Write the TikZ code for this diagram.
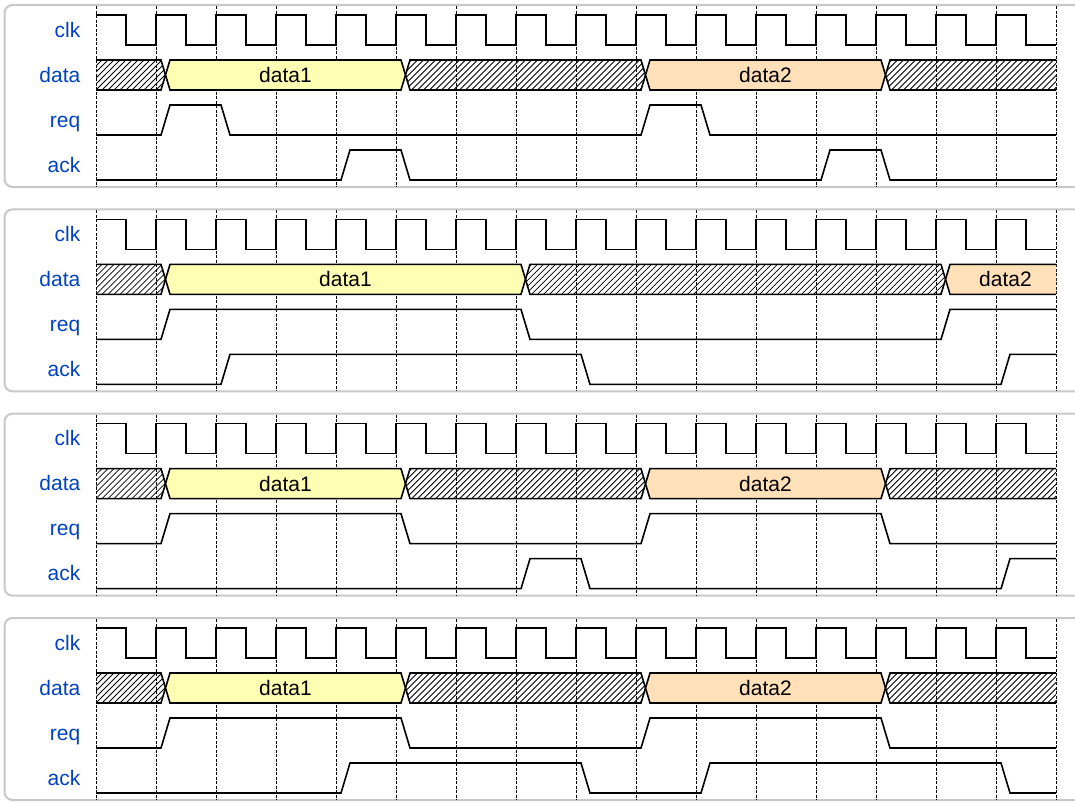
\documentclass[tikz,border=0pt]{standalone}
\usepackage{fontspec}
\setmainfont{Liberation Sans}
\definecolor{labblue}{HTML}{0041C4}
\definecolor{dyellow}{HTML}{FFFFB4}
\definecolor{dorange}{HTML}{FFE0B9}
\definecolor{panelgray}{HTML}{C8C8C8}
\tikzset{
  sig/.style={line width=1.6pt, black, line join=miter},
  gridln/.style={line width=0.7pt, dash pattern=on 3pt off 1.5pt, black},
  hatchln/.style={line width=0.8pt, black},
  pbox/.style={draw=panelgray, line width=2pt, rounded corners=8pt},
  lab/.style={anchor=base east, text=labblue, inner sep=0pt, font=\fontsize{21}{24}\selectfont},
  dlab/.style={anchor=base, text=black, inner sep=0pt, font=\fontsize{21}{24}\selectfont},
}
% data segment geometry
\newcommand\dgeom[2]{%
  \pgfmathsetmacro\dLm{#1==0?96:96+60*#1+9.5}%
  \pgfmathsetmacro\dLt{#1==0?96:96+60*#1+14}%
  \pgfmathsetmacro\dLyT{#1==0?55:70}%
  \pgfmathsetmacro\dLyB{#1==0?85:70}%
  \pgfmathsetmacro\dRm{#2==16?1056:96+60*#2+9.5}%
  \pgfmathsetmacro\dRt{#2==16?1056:96+60*#2+5}%
  \pgfmathsetmacro\dRyT{#2==16?55:70}%
  \pgfmathsetmacro\dRyB{#2==16?85:70}%
}
\newcommand\doutline{%
  \draw[sig] (\dLm,\dLyT) -- (\dLt,55) -- (\dRt,55) -- (\dRm,\dRyT);
  \draw[sig] (\dLm,\dLyB) -- (\dLt,85) -- (\dRt,85) -- (\dRm,\dRyB);
}
% filled data segment: a, b, colour, label, node name
\newcommand\dfill[5]{%
  \dgeom{#1}{#2}%
  \fill[#3] (\dLm,70) -- (\dLt,55) -- (\dRt,55) -- (\dRm,70) -- (\dRt,85) -- (\dLt,85) -- cycle;
  \doutline
  \node[dlab] (#5) at ({96+30*(#1+#2)+9.5},77.5) {#4};
}
% hatched (unknown) data segment
\newcommand\dhatch[2]{%
  \dgeom{#1}{#2}%
  \pgfmathtruncatemacro\dN{(\dRm-\dLm+30)/6+1}%
  \begin{scope}
    \clip (\dLm,70) -- (\dLt,55) -- (\dRt,55) -- (\dRm,70) -- (\dRt,85) -- (\dLt,85) -- cycle;
    \foreach \k in {0,...,\dN} \draw[hatchln] ({\dLm-30+6*\k},85) -- ++(30,-30);
  \end{scope}
  \doutline
}
% level signal: hi, lo, list of transition grid indices, end level (0/1)
\newcommand\lsig[4]{%
  \draw[sig] (96,#2) \foreach \t [count=\i] in {#3}{ -- ({96+60*\t+5},{#2+(#1-#2)*mod(\i-1,2)}) -- ({96+60*\t+14},{#2+(#1-#2)*mod(\i,2)}) } -- (1056,{#2+(#1-#2)*#4});
}
% common parts of a panel
\newcommand\panelbase[1]{%
  \draw[pbox] (4.5,0) rectangle (1110,182);
  \foreach \k in {0,...,16} \draw[gridln] ({96+60*\k},1) -- ({96+60*\k},182);
  \draw[sig] (96,10) \foreach \k in {0,...,15}{ -- ({96+60*\k+30},10) -- ({96+60*\k+30},40) -- ({96+60*\k+60},40) \ifnum\k<15 -- ({96+60*\k+60},10)\fi };
  \node[lab] (clk#1) at (80.5,32) {clk};
  \node[lab] (data#1) at (80.5,77) {data};
  \node[lab] (req#1) at (80.5,122) {req};
  \node[lab] (ack#1) at (80.5,167) {ack};
}
\begin{document}
\begin{tikzpicture}[x=1pt,y=-1pt]
\useasboundingbox (0,0) rectangle (1075,801);
\clip (0,0) rectangle (1075,801);
% panel 1
\begin{scope}[shift={(0,5)}]
  \panelbase{A}
  \dhatch{0}{1}
  \dfill{1}{5}{dyellow}{data1}{dA1}
  \dhatch{5}{9}
  \dfill{9}{13}{dorange}{data2}{dA2}
  \dhatch{13}{16}
  \lsig{100}{130}{1,2,9,10}{0}
  \lsig{145}{175}{4,5,12,13}{0}
\end{scope}
% panel 2
\begin{scope}[shift={(0,209.33)}]
  \panelbase{B}
  \dhatch{0}{1}
  \dfill{1}{7}{dyellow}{data1}{dB1}
  \dhatch{7}{14}
  \dfill{14}{16}{dorange}{data2}{dB2}
  \lsig{100}{130}{1,7,14}{1}
  \lsig{145}{175}{2,8,15}{1}
\end{scope}
% panel 3
\begin{scope}[shift={(0,413.67)}]
  \panelbase{C}
  \dhatch{0}{1}
  \dfill{1}{5}{dyellow}{data1}{dC1}
  \dhatch{5}{9}
  \dfill{9}{13}{dorange}{data2}{dC2}
  \dhatch{13}{16}
  \lsig{100}{130}{1,5,9,13}{0}
  \lsig{145}{175}{7,8,15}{1}
\end{scope}
% panel 4
\begin{scope}[shift={(0,618)}]
  \panelbase{D}
  \dhatch{0}{1}
  \dfill{1}{5}{dyellow}{data1}{dD1}
  \dhatch{5}{9}
  \dfill{9}{13}{dorange}{data2}{dD2}
  \dhatch{13}{16}
  \lsig{100}{130}{1,5,9,13}{0}
  \lsig{145}{175}{4,8,10,15}{0}
\end{scope}
\end{tikzpicture}
\end{document}
